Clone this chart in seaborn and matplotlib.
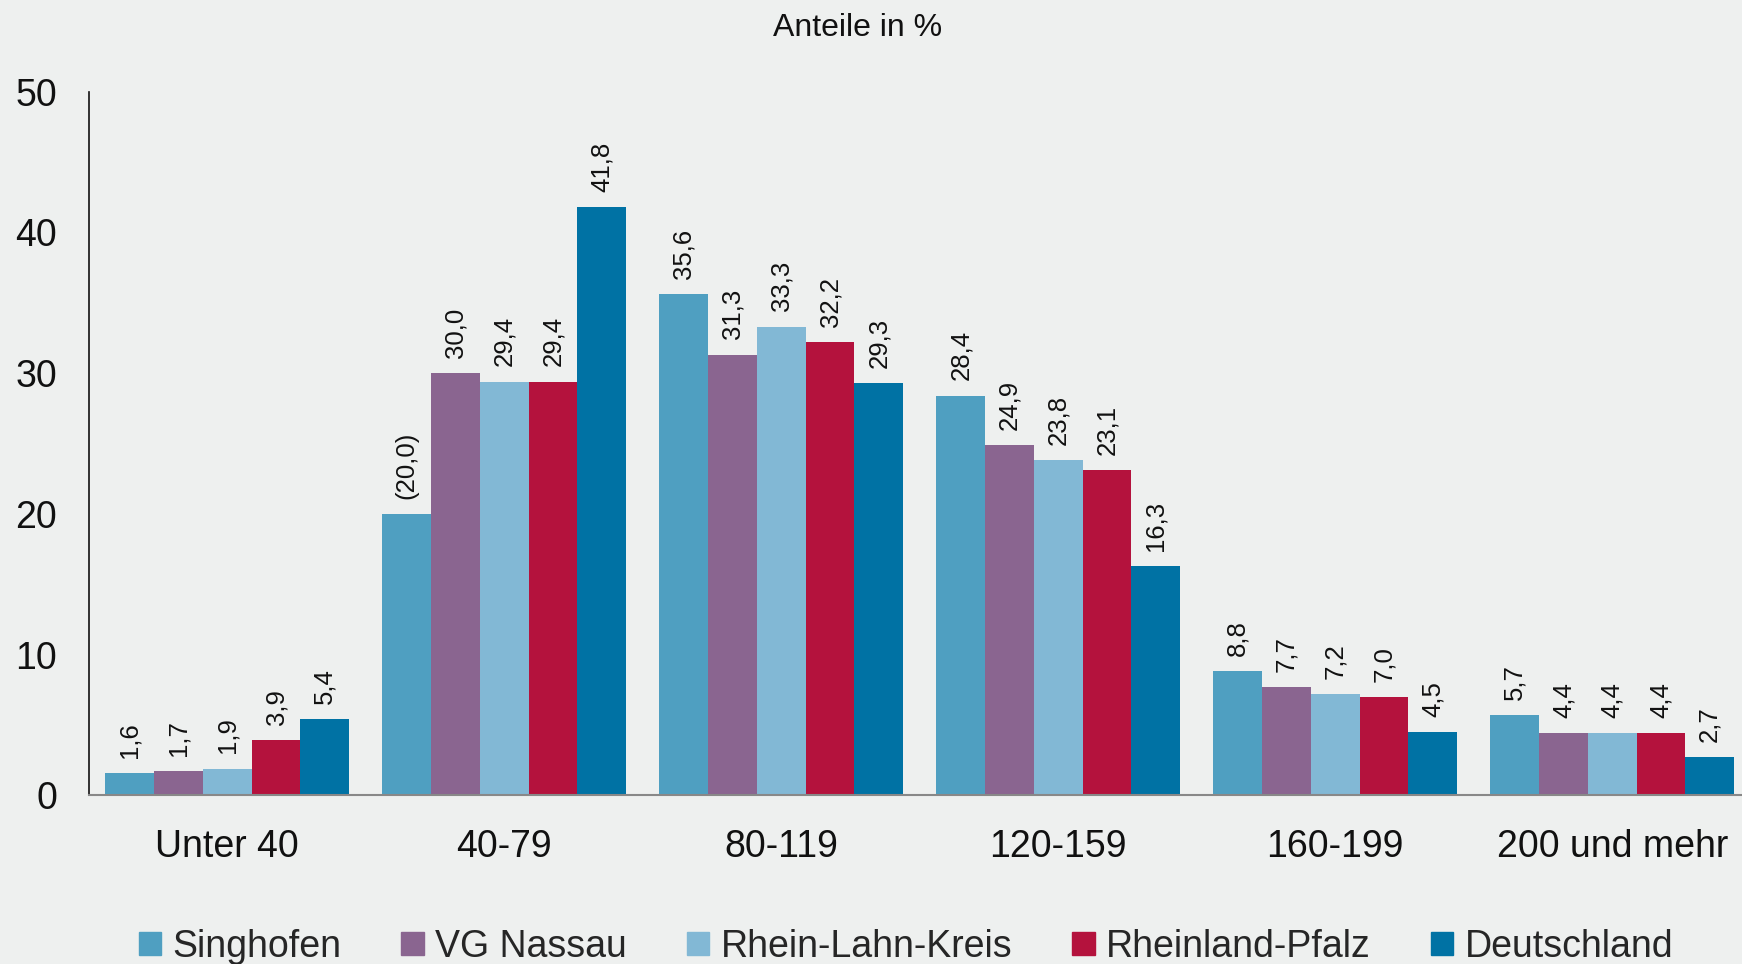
import pandas as pd
import numpy as np
import matplotlib
matplotlib.use('Agg')
import matplotlib.pyplot as plt
import seaborn as sns

# data
groups = ['Unter 40', '40-79', '80-119', '120-159', '160-199', '200 und mehr']
regions = ['Singhofen', 'VG Nassau', 'Rhein-Lahn-Kreis', 'Rheinland-Pfalz', 'Deutschland']
singhofen = [1.6, 20.0, 35.6, 28.4, 8.8, 5.7]
vg_nassau = [1.7, 30.0, 31.3, 24.9, 7.7, 4.4]
rhein_lahn = [1.9, 29.4, 33.3, 23.8, 7.2, 4.4]
rlp = [3.9, 29.4, 32.2, 23.1, 7.0, 4.4]
deutschland = [5.4, 41.8, 29.3, 16.3, 4.5, 2.7]
bracketed = {('Singhofen', '40-79')}   # value shown in brackets
colors = ['#4f9fc1', '#8a6590', '#82b8d5', '#b4123d', '#0072a4']
bg = '#eef0ef'

series = [singhofen, vg_nassau, rhein_lahn, rlp, deutschland]
df = pd.DataFrame([(g, r, v) for r, vals in zip(regions, series) for g, v in zip(groups, vals)],
                  columns=['group', 'region', 'value'])

sns.set_style('white')
plt.rcParams['font.family'] = ['Liberation Sans', 'DejaVu Sans']

fig = plt.figure(figsize=(17.42, 9.64), dpi=100, facecolor=bg)
ax = fig.add_axes([0.051, 0.175, 0.954, 0.73])  # last group runs slightly past the edge, as in the original
ax.set_facecolor(bg)

sns.barplot(data=df, x='group', y='value', hue='region', order=groups, hue_order=regions,
            palette=colors, saturation=1, width=0.88, linewidth=0, ax=ax)

# value labels, rotated
for region, cont in zip(regions, ax.containers):
    labels = []
    for g, bar in zip(groups, cont):
        s = f'{bar.get_height():.1f}'.replace('.', ',')
        if (region, g) in bracketed:
            s = f'({s})'
        labels.append(s)
    ax.bar_label(cont, labels=labels, rotation=90, padding=11, fontsize=18.5, color='#111111')

ax.set_ylim(0, 50)
ax.set_xlim(-0.5, 5.5)
ax.set_yticks(range(0, 51, 10))
ax.tick_params(axis='y', labelsize=27, length=9, width=1.5, color='#888888', pad=14, labelcolor='#111111')

# group boundaries as ticks, names centered in between
ax.set_xticks(np.arange(-0.5, 6, 1))
ax.set_xticklabels([])
ax.set_xticks(range(len(groups)), minor=True)
ax.set_xticklabels(groups, minor=True)
ax.tick_params(axis='x', which='major', length=11, width=1.2, color='#555555', direction='out')
ax.tick_params(axis='x', which='minor', length=0, labelsize=27, pad=24, labelcolor='#111111')
ax.set_xlabel('')
ax.set_ylabel('')

for side in ['top', 'right']:
    ax.spines[side].set_visible(False)
ax.spines['left'].set_color('#111111')
ax.spines['left'].set_linewidth(1.2)
ax.spines['bottom'].set_color('#888888')
ax.spines['bottom'].set_linewidth(1.5)
ax.grid(False)

fig.text(0.4925, 0.971, 'Anteile in %', ha='center', va='center', fontsize=23, color='#111111')

ax.legend_.remove()
handles = [plt.Rectangle((0, 0), 1, 1, color=c) for c in colors]
fig.legend(handles, regions, loc='center', bbox_to_anchor=(0.52, 0.018), ncol=5, frameon=False,
           fontsize=27, handlelength=0.6, handleheight=0.6, handletextpad=0.3, columnspacing=1.6)

fig.savefig('out.png', dpi=100, facecolor=bg)
